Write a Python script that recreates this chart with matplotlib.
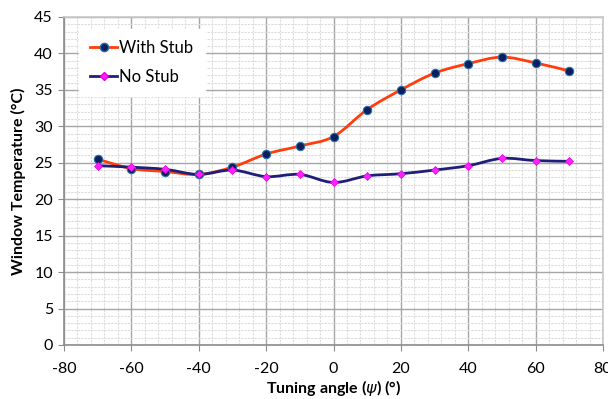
import numpy as np
import matplotlib
matplotlib.use('Agg')
import matplotlib.pyplot as plt
from matplotlib.path import Path
from matplotlib.patches import PathPatch
from matplotlib.ticker import MultipleLocator

# data
angle = [-70, -60, -50, -40, -30, -20, -10, 0, 10, 20, 30, 40, 50, 60, 70]
with_stub = [25.5, 24.2, 23.8, 23.4, 24.4, 26.2, 27.3, 28.6, 32.3, 35.0, 37.3, 38.6, 39.5, 38.7, 37.6]
no_stub = [24.6, 24.4, 24.1, 23.4, 24.0, 23.1, 23.4, 22.3, 23.2, 23.5, 24.0, 24.6, 25.6, 25.3, 25.2]


def smooth_path(x, y):
    # Excel-like smoothed line: cubic bezier through the points
    x = np.asarray(x, float)
    y = np.asarray(y, float)
    verts = [(x[0], y[0])]
    codes = [Path.MOVETO]
    n = len(x)
    for i in range(n - 1):
        p0 = np.array([x[max(i - 1, 0)], y[max(i - 1, 0)]])
        p1 = np.array([x[i], y[i]])
        p2 = np.array([x[i + 1], y[i + 1]])
        p3 = np.array([x[min(i + 2, n - 1)], y[min(i + 2, n - 1)]])
        c1 = p1 + (p2 - p0) / 6.0
        c2 = p2 - (p3 - p1) / 6.0
        verts += [tuple(c1), tuple(c2), tuple(p2)]
        codes += [Path.CURVE4] * 3
    return Path(verts, codes)


plt.rcParams['font.family'] = ['Lato', 'DejaVu Sans']
plt.rcParams['axes.unicode_minus'] = False

fig = plt.figure(figsize=(6.08, 3.99), dpi=100)
ax = fig.add_axes([64 / 608, 1 - 345 / 399, 539 / 608, 328 / 399])

ax.set_xlim(-80, 80)
ax.set_ylim(0, 45)
ax.xaxis.set_major_locator(MultipleLocator(20))
ax.xaxis.set_minor_locator(MultipleLocator(4))
ax.yaxis.set_major_locator(MultipleLocator(5))
ax.yaxis.set_minor_locator(MultipleLocator(1))
ax.grid(which='major', color='#a6a6a6', lw=1.0)
ax.grid(which='minor', color='#dcdcdc', lw=0.8, ls=(0, (2, 1)))
ax.set_axisbelow(True)
for s in ax.spines.values():
    s.set_color('#c8c8c8')
    s.set_linewidth(1.2)
ax.spines['left'].set_color('#8c8c8c')
ax.spines['bottom'].set_color('#8c8c8c')
ax.tick_params(which='major', length=4, color='#8c8c8c', labelsize=11.5, pad=4)
ax.tick_params(which='minor', length=0)
ax.tick_params(axis='x', pad=8)

ax.add_patch(PathPatch(smooth_path(angle, with_stub), fill=False, ec='#ff3d0d', lw=2, zorder=3))
ax.add_patch(PathPatch(smooth_path(angle, no_stub), fill=False, ec='#1f1f7a', lw=2, zorder=3))
ax.plot(angle, with_stub, ls='none', marker='o', ms=6, mfc='#0a1f5c', mec='#2b6ea8', mew=0.8,
        zorder=4)
ax.plot(angle, no_stub, ls='none', marker='D', ms=4.5, mfc='#ff20ff', mec='#e000e0', mew=0.5,
        zorder=5)

# legend handles
h1, = ax.plot([], [], color='#ff3d0d', lw=2, marker='o', ms=6, mfc='#0a1f5c', mec='#2b6ea8')
h2, = ax.plot([], [], color='#1f1f7a', lw=2, marker='D', ms=4.5, mfc='#ff20ff', mec='#e000e0')
leg = ax.legend([h1, h2], ['With Stub', 'No Stub'], loc='upper left', bbox_to_anchor=(0.012, 0.99),
                frameon=True, fontsize=12, handlelength=1.6, handletextpad=0.1,
                borderpad=0.7, labelspacing=0.75, fancybox=False)
leg.get_frame().set_edgecolor('white')
leg.get_frame().set_alpha(1)

ax.set_xlabel('Tuning angle ($\\psi$) (°)', fontsize=11.5, fontweight='bold', labelpad=2)
ax.set_ylabel('Window Temperature (°C)', fontsize=11.5, fontweight='bold', labelpad=6)

fig.savefig('out.png', dpi=100)
